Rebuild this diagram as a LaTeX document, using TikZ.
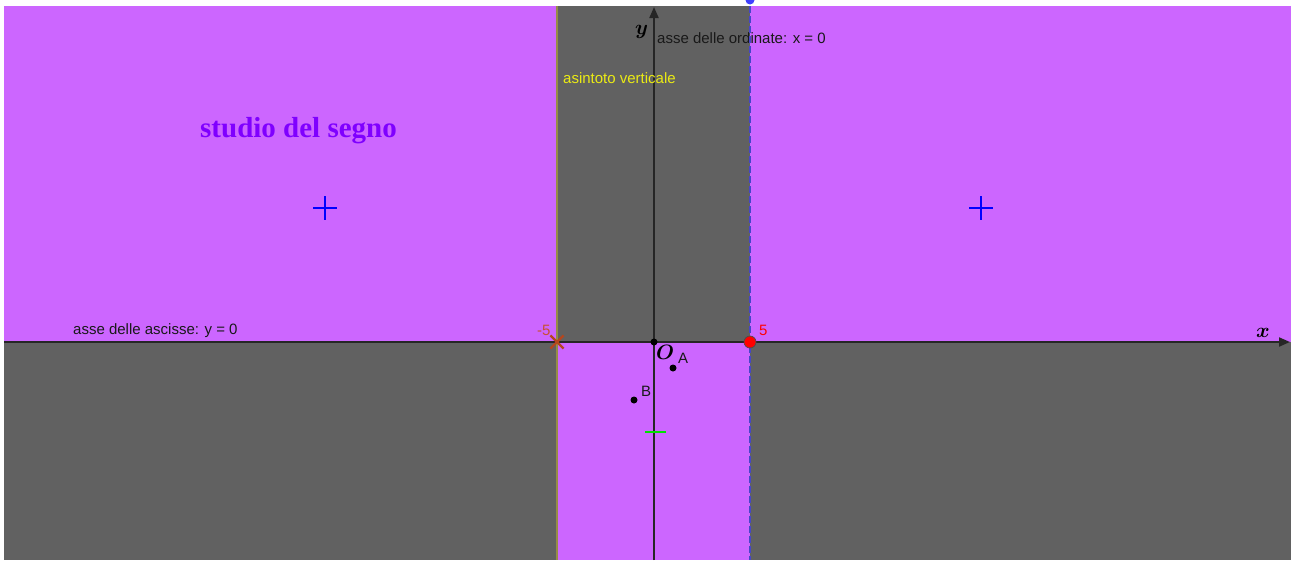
\documentclass[tikz,border=0pt]{standalone}
\usepackage{fontspec}
\setmainfont{Liberation Serif}
\setsansfont{Liberation Sans}
\usepackage{bm}
\usetikzlibrary{arrows.meta, shapes.misc}
\definecolor{colorPositive}{RGB}{204,102,255}
\definecolor{colorNegative}{RGB}{97,97,97}
\definecolor{colorTitle}{RGB}{127,0,255}
\definecolor{colorAsymptote}{RGB}{150,140,70}
\definecolor{colorAsyText}{RGB}{235,235,20}
\definecolor{colorCross}{RGB}{180,70,30}
\definecolor{colorMinusFive}{RGB}{200,80,50}
\definecolor{colorDashed}{RGB}{70,70,200}
\definecolor{colorLabel}{RGB}{25,25,25}
\definecolor{colorMark}{RGB}{0,225,0}

\begin{document}
\begin{tikzpicture}[
    x=1pt, y=-1pt,
    lbl/.style={font=\sffamily\fontsize{15}{18}\selectfont, inner sep=0pt, anchor=base west, text=colorLabel},
    axislbl/.style={font=\fontsize{20}{24}\selectfont, inner sep=0pt, anchor=base west},
    axisline/.style={line width=2pt, color=black!85, -{Triangle[length=11pt, width=9pt]}},
    dot/.style={circle, fill=black, inner sep=0pt, minimum size=7pt},
    plussign/.style={draw=blue, line width=2pt}
]
\useasboundingbox (0,0) rectangle (1291,560);
\fill[white] (0,0) rectangle (1291,560);

% Sign regions
\fill[colorPositive] (4,6) rectangle (557,342);
\fill[colorNegative] (4,342) rectangle (557,560);
\fill[colorNegative] (557,6) rectangle (750,342);
\fill[colorPositive] (557,342) rectangle (750,560);
\fill[colorPositive] (750,6) rectangle (1291,342);
\fill[colorNegative] (750,342) rectangle (1291,560);

% Axes
\coordinate (xStart) at (4,342);
\coordinate (xEnd) at (1290,342);
\coordinate (yStart) at (654,560);
\coordinate (yEnd) at (654,7);
\draw[axisline] (xStart) -- (xEnd);
\draw[axisline] (yStart) -- (yEnd);
\node[axislbl] (xLabel) at (1256,337) {$\bm{x}$};
\node[axislbl] (yLabel) at (635,34) {$\bm{y}$};

% Vertical asymptote
\coordinate (asyTop) at (557,6);
\coordinate (asyBottom) at (557,560);
\draw[colorAsymptote, line width=1.8pt] (asyTop) -- (asyBottom);

% Labels
\node[font=\bfseries\fontsize{29}{34}\selectfont, text=colorTitle, anchor=base west, inner sep=0pt] (title) at (200,137) {studio del segno};
\node[lbl] (xAxisName) at (73,334) {asse delle ascisse: y = 0};
\node[lbl] (yAxisName) at (657,43) {asse delle ordinate: x = 0};
\node[lbl, text=colorAsyText] (asyName) at (563,83) {asintoto verticale};
\node[lbl, text=colorMinusFive] (minusFiveLabel) at (537,335) {-5};
\node[lbl, text=red] (fiveLabel) at (759,335) {5};

% Dashed line through the zero
\coordinate (dashTop) at (750,6);
\coordinate (dashBottom) at (750,560);
\draw[colorDashed, line width=1.5pt, dash pattern=on 7pt off 3pt] (dashTop) -- (dashBottom);
\node[circle, fill=blue!75, inner sep=0pt, minimum size=9pt] (topPoint) at (750,0) {};

% Points
\node[cross out, draw=colorCross, line width=2.2pt, minimum size=11pt, inner sep=0pt] (minusFive) at (557,342) {};
\node[circle, fill=red, draw=black!70, line width=0.7pt, minimum size=12pt, inner sep=0pt] (five) at (750,342) {};
\node[dot] (O) at (654,342) {};
\node[axislbl] (OLabel) at (656,359) {$\bm{O}$};
\node[dot] (A) at (673,368) {};
\node[lbl] (ALabel) at (678,363) {A};
\node[dot] (B) at (634,400) {};
\node[lbl] (BLabel) at (641,396) {B};
\draw[colorMark, line width=1.5pt] (645,432) -- (666,432);

% Sign marks
\foreach \cx in {325,981}
    \draw[plussign] (\cx-12,208) -- (\cx+12,208) (\cx,196) -- (\cx,220);

\end{tikzpicture}
\end{document}
